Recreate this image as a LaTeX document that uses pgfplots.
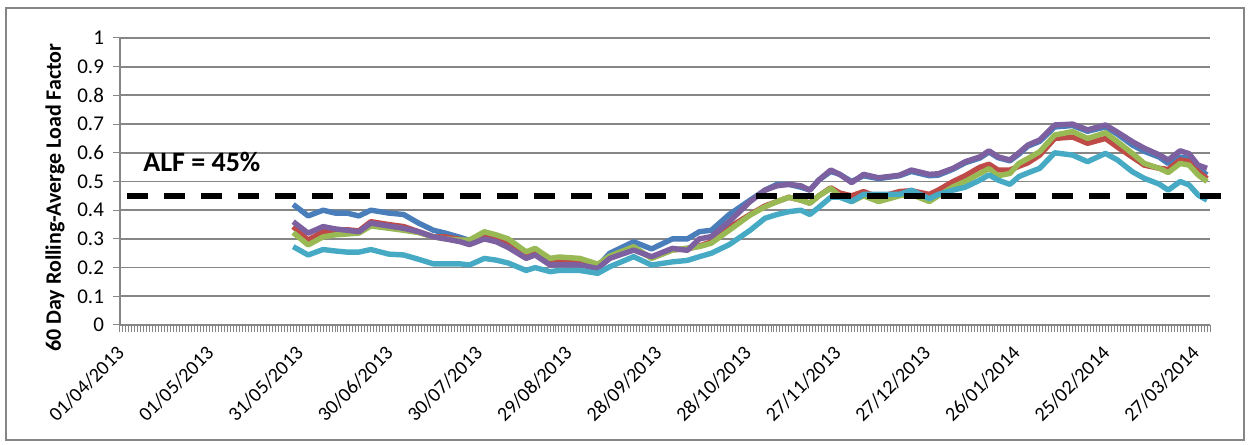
\documentclass[border=0pt]{standalone}
\usepackage{pgfplots}
\pgfplotsset{compat=1.18}
\usepackage{pgfplotstable}
\usepackage{fontspec}
\setmainfont{Carlito}
\definecolor{sBlue}{HTML}{4A7EBB}
\definecolor{sRed}{HTML}{BE4B48}
\definecolor{sGreen}{HTML}{98B954}
\definecolor{sPurple}{HTML}{7D60A0}
\definecolor{sCyan}{HTML}{46AAC5}
\definecolor{gridg}{HTML}{868686}

\pgfplotstableread{
d v
58 .42
63 .38
68 .40
72 .39
76 .39
80 .38
84 .40
90 .39
95 .385
100 .355
105 .33
109 .32
114 .305
117 .295
122 .31
126 .30
130 .28
136 .24
139 .25
144 .212
147 .215
154 .212
160 .205
164 .25
172 .29
178 .265
185 .30
190 .30
194 .325
198 .33
204 .385
211 .435
216 .47
220 .49
224 .49
228 .48
231 .47
234 .505
238 .535
241 .525
245 .50
249 .52
254 .51
261 .52
265 .535
271 .52
274 .522
279 .543
283 .565
288 .582
291 .603
294 .583
298 .572
301 .595
304 .623
308 .64
313 .69
319 .695
324 .675
330 .69
334 .665
339 .627
343 .605
348 .585
351 .563
355 .585
358 .58
361 .545
364 .523
}\blue

\pgfplotstableread{
d v
58 .343
63 .296
68 .325
72 .33
76 .332
80 .328
84 .36
90 .35
95 .343
100 .325
105 .307
109 .307
114 .298
117 .29
122 .314
126 .296
130 .28
136 .245
139 .255
144 .22
147 .222
154 .22
160 .205
164 .235
172 .265
178 .235
185 .262
190 .265
194 .275
198 .29
204 .34
211 .385
216 .415
220 .43
224 .445
228 .435
231 .425
234 .45
238 .478
241 .46
245 .45
249 .465
254 .445
261 .465
265 .468
271 .455
274 .47
279 .50
283 .52
288 .55
291 .56
294 .54
298 .54
301 .553
304 .565
308 .592
313 .65
319 .655
324 .633
330 .65
334 .62
339 .585
343 .557
348 .546
351 .542
355 .575
358 .57
361 .535
364 .51
}\red

\pgfplotstableread{
d v
58 .322
63 .279
68 .307
72 .314
76 .317
80 .32
84 .345
90 .337
95 .33
100 .322
105 .307
109 .30
114 .296
117 .296
122 .325
126 .314
130 .30
136 .255
139 .267
144 .232
147 .237
154 .232
160 .212
164 .24
172 .273
178 .232
185 .261
190 .268
194 .273
198 .285
204 .33
211 .383
216 .412
220 .43
224 .445
228 .435
231 .424
234 .45
238 .476
241 .45
245 .43
249 .45
254 .43
261 .45
265 .455
271 .43
274 .45
279 .482
283 .50
288 .528
291 .545
294 .52
298 .528
301 .563
304 .58
308 .604
313 .662
319 .674
324 .65
330 .67
334 .639
339 .598
343 .563
348 .546
351 .531
355 .563
358 .557
361 .523
364 .50
}\green

\pgfplotstableread{
d v
58 .36
63 .32
68 .343
72 .335
76 .33
80 .325
84 .355
90 .345
95 .337
100 .325
105 .307
109 .30
114 .29
117 .28
122 .30
126 .29
130 .27
136 .232
139 .244
144 .209
147 .21
154 .209
160 .197
164 .232
172 .261
178 .238
185 .267
190 .26
194 .30
198 .308
204 .36
211 .43
216 .47
220 .485
224 .49
228 .485
231 .47
234 .505
238 .54
241 .525
245 .496
249 .525
254 .513
261 .522
265 .54
271 .525
274 .527
279 .546
283 .569
288 .586
291 .607
294 .586
298 .575
301 .60
304 .627
308 .645
313 .697
319 .70
324 .68
330 .697
334 .672
339 .639
343 .616
348 .593
351 .575
355 .607
358 .597
361 .557
364 .546
}\purple

\pgfplotstableread{
d v
58 .273
63 .244
68 .263
72 .258
76 .254
80 .254
84 .263
90 .247
95 .244
100 .229
105 .213
109 .213
114 .213
117 .209
122 .232
126 .226
130 .216
136 .19
139 .20
144 .186
147 .19
154 .19
160 .18
164 .203
172 .238
178 .209
185 .22
190 .225
194 .238
198 .25
204 .28
211 .33
216 .372
220 .385
224 .395
228 .40
231 .385
234 .41
238 .445
241 .445
245 .43
249 .455
254 .455
261 .455
265 .47
271 .44
274 .455
279 .47
283 .48
288 .505
291 .523
294 .505
298 .49
301 .517
304 .53
308 .546
313 .60
319 .592
324 .569
330 .598
334 .575
339 .534
343 .511
348 .491
351 .47
355 .50
358 .488
361 .453
364 .435
}\cyan

\begin{document}
\begin{tikzpicture}
\useasboundingbox (-60pt,-60pt) rectangle (565pt,162.5pt);
\draw[gridg, line width=0.6pt] (-57pt,-57.5pt) rectangle (562pt,158.5pt);
\begin{axis}[
  at={(0pt,0pt)}, anchor=south west,
  scale only axis, width=545pt, height=143.5pt,
  xmin=0, xmax=365, ymin=0, ymax=1,
  clip=false,
  axis lines=left,
  axis line style={gridg, line width=0.9pt, -},
  ytick={0,0.1,...,1},
  yticklabels={0,0.1,0.2,0.3,0.4,0.5,0.6,0.7,0.8,0.9,1},
  xtick={0,30,...,360},
  xticklabels={01/04/2013,01/05/2013,31/05/2013,30/06/2013,30/07/2013,29/08/2013,28/09/2013,28/10/2013,27/11/2013,27/12/2013,26/01/2014,25/02/2014,27/03/2014},
  minor xtick={0,1,...,365},
  tick align=outside,
  major tick length=3.5pt, minor tick length=3.5pt,
  tick style={gridg, line width=0.5pt},
  ymajorgrids,
  grid style={gridg, line width=0.9pt},
  yticklabel style={font=\fontsize{10.5}{12}\selectfont, xshift=-1pt},
  /pgf/number format/assume math mode=true,
  xticklabel style={font=\fontsize{10}{12}\selectfont, xshift=2.8pt, yshift=-6.5pt, rotate=45, anchor=east},
  ylabel={\bfseries 60 Day Rolling-Averge Load Factor},
  ylabel style={at={(axis description cs:-0.0596,0.444)}, anchor=center, font=\fontsize{11}{13}\selectfont},
]
\addplot[sBlue, line width=2.7pt, line join=round] table[x=d,y=v] {\blue};
\addplot[sRed, line width=2.7pt, line join=round] table[x=d,y=v] {\red};
\addplot[sGreen, line width=2.7pt, line join=round] table[x=d,y=v] {\green};
\addplot[sPurple, line width=2.7pt, line join=round] table[x=d,y=v] {\purple};
\addplot[sCyan, line width=2.7pt, line join=round] table[x=d,y=v] {\cyan};
\addplot[black, line width=2.8pt, dash pattern=on 10.5pt off 8pt] coordinates {(2.5,0.45) (369,0.45)};
\node[font=\fontsize{14}{16}\selectfont\bfseries] at (axis cs:27.4,0.568) {ALF = 45\%};
\end{axis}
\end{tikzpicture}
\end{document}
